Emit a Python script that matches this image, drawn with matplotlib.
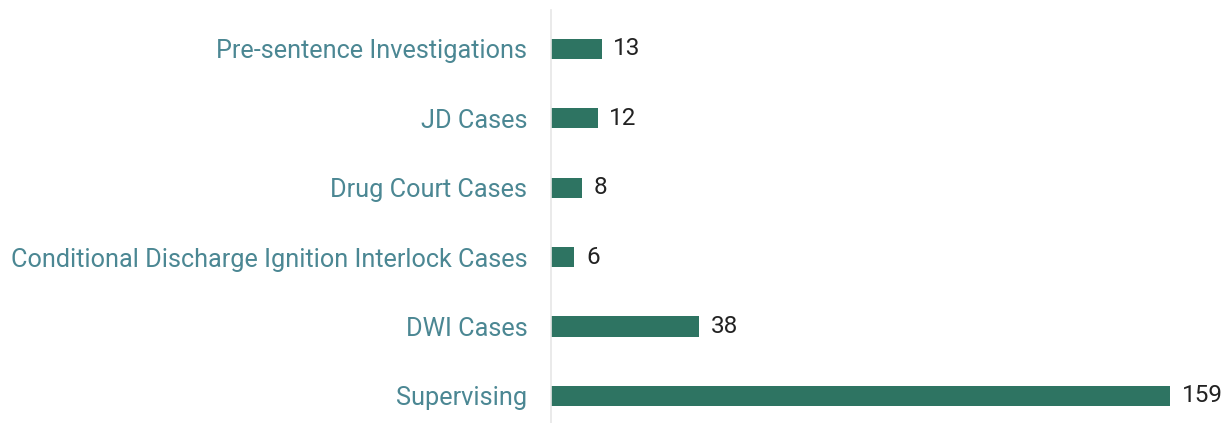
import matplotlib.pyplot as plt

# data, top to bottom as in the chart
categories = [
    "Pre-sentence Investigations",
    "JD Cases",
    "Drug Court Cases",
    "Conditional Discharge Ignition Interlock Cases",
    "DWI Cases",
    "Supervising",
]
counts = [13, 12, 8, 6, 38, 159]

bar_color = "#2e7462"
label_color = "#4b8793"
value_color = "#222222"

plt.rcParams["font.family"] = ["Roboto", "DejaVu Sans"]

fig = plt.figure(figsize=(12.29, 4.23), dpi=100)
ax = fig.add_axes([551 / 1229, 0.0, 678 / 1229, 413 / 423])

ypos = list(range(len(categories)))
ax.barh(ypos, counts, height=0.29, color=bar_color)
ax.set_ylim(5.39, -0.56)
ax.set_xlim(0, 174.2)

for y, v in zip(ypos, counts):
    ax.text(v + 3.0, y, str(v), va="center", ha="left",
            fontsize=17.5, color=value_color, clip_on=False)

ax.set_yticks(ypos)
ax.set_yticklabels(categories, fontsize=18.2, color=label_color)
ax.tick_params(axis="y", length=0, pad=17)
ax.set_xticks([])

for side in ["top", "right", "bottom"]:
    ax.spines[side].set_visible(False)
ax.spines["left"].set_color("#e6e6e6")
ax.spines["left"].set_linewidth(1.2)

fig.savefig("out.png", dpi=100)
